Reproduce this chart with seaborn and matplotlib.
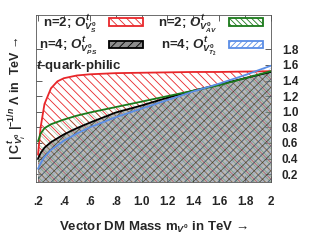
import numpy as np
import pandas as pd
import matplotlib
matplotlib.use("Agg")
import matplotlib.pyplot as plt
import seaborn as sns

mass = [0.2, 0.22, 0.25, 0.3, 0.35, 0.4, 0.5, 0.6, 0.8, 1.0, 1.2, 1.4, 1.6, 1.8, 2.0]
lam_S = [0.45, 0.80, 1.10, 1.30, 1.39, 1.43, 1.465, 1.48, 1.495, 1.50, 1.505, 1.51, 1.51, 1.515, 1.52]
lam_AV = [0.62, 0.72, 0.79, 0.84, 0.87, 0.90, 0.95, 0.99, 1.06, 1.13, 1.20, 1.27, 1.34, 1.43, 1.52]
lam_PS = [0.40, 0.47, 0.54, 0.61, 0.66, 0.71, 0.79, 0.86, 0.99, 1.08, 1.18, 1.27, 1.35, 1.43, 1.51]
lam_T2 = [0.27, 0.34, 0.42, 0.51, 0.57, 0.63, 0.72, 0.80, 0.93, 1.04, 1.15, 1.26, 1.36, 1.47, 1.59]

labels = [r"n=2; $O^t_{V^0_S}$", r"n=4; $O^t_{V^0_{PS}}$",
          r"n=2; $O^t_{V^0_{AV}}$", r"n=4; $O^t_{V^0_{T_2}}$"]
xticks = [0.2, 0.4, 0.6, 0.8, 1.0, 1.2, 1.4, 1.6, 1.8, 2.0]
xticklabels = [".2", ".4", ".6", ".8", "1.0", "1.2", "1.4", "1.6", "1.8", "2"]
yticks = [0.2, 0.4, 0.6, 0.8, 1.0, 1.2, 1.4, 1.6, 1.8]

sns.set_style("ticks")
plt.rcParams['font.family'] = ['Liberation Sans', 'DejaVu Sans']
plt.rcParams['font.weight'] = 'bold'
plt.rcParams['mathtext.fontset'] = 'custom'
plt.rcParams['mathtext.rm'] = 'Liberation Sans:bold'
plt.rcParams['mathtext.it'] = 'Liberation Sans:bold:italic'
plt.rcParams['mathtext.bf'] = 'Liberation Sans:bold'
plt.rcParams['hatch.linewidth'] = 0.6

fig = plt.figure(figsize=(3.34, 2.5), dpi=100)
ax = fig.add_axes([0.108, 0.272, 0.703, 0.668])

series = [
    (lam_S, "#e8262a", "\\\\\\\\", "none", 1.0),
    (lam_PS, "black", "////", "#8c8c8c", 1.0),
    (lam_AV, "#1a7a1a", "\\\\\\\\\\\\", "none", 0.35),
    (lam_T2, "#5b8ee6", "//////", "none", 0.35),
]
handles = []
for (vals, col, hatch, face, a), lab in zip(series, labels):
    df = pd.DataFrame({"m": mass, "lam": vals})
    ax.fill_between(df["m"], 0.0, df["lam"], facecolor=face, edgecolor=col,
                    hatch=hatch, linewidth=0, alpha=a if face == "none" else 0.6)
    h = matplotlib.patches.Patch(facecolor=face if face != "none" else "white",
                                 edgecolor=col, hatch=hatch, linewidth=1.3, label=lab)
    handles.append(h)
for (vals, col, hatch, face, a) in series:
    df = pd.DataFrame({"m": mass, "lam": vals})
    sns.lineplot(data=df, x="m", y="lam", color=col, lw=1.3, ax=ax)

ax.set_xlim(0.185, 2.0)
ax.set_ylim(0.1, 2.24)
ax.set_xticks(xticks)
ax.set_xticklabels(xticklabels, fontsize=8.5, fontweight='bold')
ax.set_yticks(yticks)
ax.set_yticklabels([f"{v:.1f}" for v in yticks], fontsize=8.5, fontweight='bold')
ax.yaxis.tick_right()
ax.tick_params(axis='both', direction='in', length=4, width=0.6, top=True, left=True,
               right=True, color="#444444")
ax.tick_params(axis='x', pad=10)
ax.tick_params(axis='y', pad=8)
ax.set_xlabel(r"Vector DM Mass m$_{V^0}$ in TeV →", fontsize=9.5, fontweight='bold', labelpad=9)
ax.set_ylabel(r"| C$^t_{V^0_i}$ |$^{-1/n}$ Λ in  TeV →", fontsize=9, fontweight='bold', labelpad=6)
ax.yaxis.set_label_position("left")
for s in ax.spines.values():
    s.set_linewidth(0.6)
    s.set_color("#555555")

ax.legend(handles=handles, ncol=2, loc="upper left", bbox_to_anchor=(0.0, 1.03),
          frameon=False, markerfirst=False, fontsize=9.5, handlelength=2.6,
          handleheight=0.5, columnspacing=1.1, handletextpad=0.9, labelspacing=0.0,
          borderaxespad=0.1, borderpad=0.1)
ax.text(0.0, 0.645, r"$\mathit{t}$-quark-philic", transform=ax.transAxes, fontsize=9.5,
        fontweight='bold', va='bottom')

fig.savefig("out.png", dpi=100)
